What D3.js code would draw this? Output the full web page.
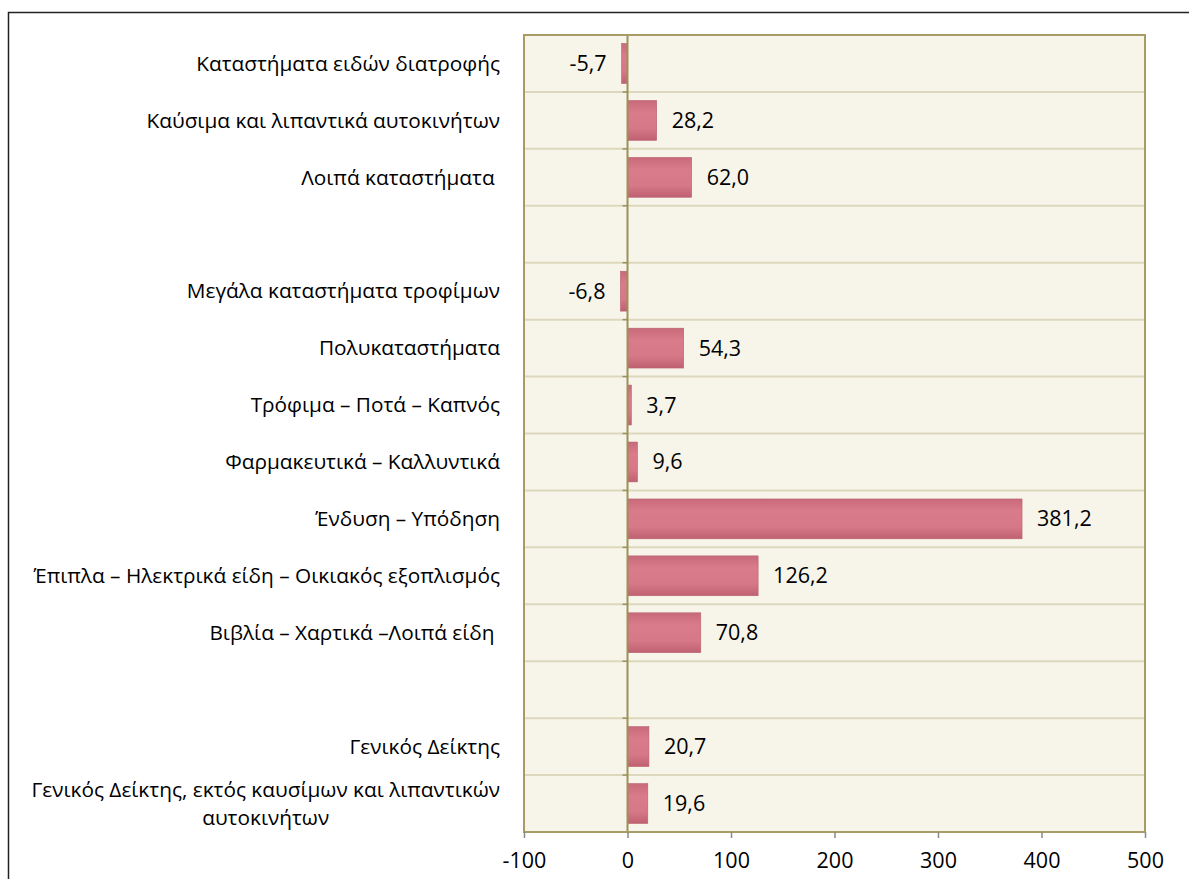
<!DOCTYPE html>
<html>
<head>
<meta charset="utf-8">
<script src="https://cdn.jsdelivr.net/npm/d3@7"></script>
<style>
  body { margin: 0; background: #fff; }
  svg { display: block; font-family: "Open Sans", sans-serif; }
</style>
</head>
<body>
<svg id="chart"></svg>
<script>
// categories, top to bottom ("" = empty spacer row)
const categories = [
  "Καταστήματα ειδών διατροφής",
  "Καύσιμα και λιπαντικά αυτοκινήτων",
  "Λοιπά καταστήματα ",
  "",
  "Μεγάλα καταστήματα τροφίμων",
  "Πολυκαταστήματα",
  "Τρόφιμα – Ποτά – Καπνός",
  "Φαρμακευτικά – Καλλυντικά",
  "Ένδυση – Υπόδηση",
  "Έπιπλα – Ηλεκτρικά είδη – Οικιακός εξοπλισμός",
  "Βιβλία – Χαρτικά –Λοιπά είδη ",
  " ",
  "Γενικός Δείκτης",
  "Γενικός Δείκτης, εκτός καυσίμων και λιπαντικών|αυτοκινήτων"
];
const values = [-5.7, 28.2, 62.0, null, -6.8, 54.3, 3.7, 9.6, 381.2, 126.2, 70.8, null, 20.7, 19.6];
const xTicks = [-100, 0, 100, 200, 300, 400, 500];

const width = 1189, height = 879;
const plot = { left: 524, right: 1145, top: 35, bottom: 832 };
const labelSize = 20.8;
const numSize = 21.5;

const svg = d3.select("#chart").attr("width", width).attr("height", height);

const locale = d3.formatLocale({ decimal: ",", thousands: ".", grouping: [3], currency: ["", "€"], minus: "-" });
const fmt = locale.format(".1f");

const x = d3.scaleLinear().domain([-100, 500]).range([plot.left, plot.right]);
const y = d3.scaleBand().domain(d3.range(categories.length))
  .range([plot.top, plot.bottom]).paddingInner(0.3).paddingOuter(0.15);
const rowH = (plot.bottom - plot.top) / categories.length;

// outer frame
svg.append("path")
  .attr("d", `M${width + 5},12.5 H8.5 V${height + 5}`)
  .attr("fill", "none").attr("stroke", "#222").attr("stroke-width", 1.5);

// gradient for bars
const defs = svg.append("defs");
const grad = defs.append("linearGradient").attr("id", "barGrad")
  .attr("x1", 0).attr("y1", 0).attr("x2", 0).attr("y2", 1);
grad.append("stop").attr("offset", "0%").attr("stop-color", "#c86a79");
grad.append("stop").attr("offset", "30%").attr("stop-color", "#d97b8a");
grad.append("stop").attr("offset", "70%").attr("stop-color", "#d67887");
grad.append("stop").attr("offset", "100%").attr("stop-color", "#bf6171");

// plot background
svg.append("rect")
  .attr("x", plot.left).attr("y", plot.top)
  .attr("width", plot.right - plot.left).attr("height", plot.bottom - plot.top)
  .attr("fill", "#f7f5ea");

// horizontal gridlines between rows
svg.append("g").selectAll("line")
  .data(d3.range(1, categories.length))
  .join("line")
  .attr("x1", plot.left).attr("x2", plot.right)
  .attr("y1", i => plot.top + i * rowH).attr("y2", i => plot.top + i * rowH)
  .attr("stroke", "#dcd8bd").attr("stroke-width", 2);

// bars
svg.append("g").selectAll("rect")
  .data(values.map((v, i) => ({ v, i })).filter(d => d.v !== null))
  .join("rect")
  .attr("x", d => x(Math.min(0, d.v)))
  .attr("y", d => y(d.i))
  .attr("width", d => Math.abs(x(d.v) - x(0)))
  .attr("height", y.bandwidth())
  .attr("fill", "url(#barGrad)")
  .attr("stroke", "#b86070").attr("stroke-width", 0.6);

// value labels
svg.append("g").selectAll("text")
  .data(values.map((v, i) => ({ v, i })).filter(d => d.v !== null))
  .join("text")
  .attr("x", d => d.v < 0 ? x(d.v) - 15 : x(d.v) + 15)
  .attr("y", d => y(d.i) + y.bandwidth() / 2)
  .attr("dy", "0.35em")
  .attr("text-anchor", d => d.v < 0 ? "end" : "start")
  .attr("font-size", numSize).attr("fill", "#000")
  .text(d => fmt(d.v));

// zero axis with ticks to the left
const zero = svg.append("g");
zero.append("line")
  .attr("x1", x(0)).attr("x2", x(0)).attr("y1", plot.top).attr("y2", plot.bottom)
  .attr("stroke", "#9c9158").attr("stroke-width", 2);
zero.selectAll("line.tick")
  .data(d3.range(0, categories.length + 1))
  .join("line").attr("class", "tick")
  .attr("x1", x(0) - 5).attr("x2", x(0))
  .attr("y1", i => plot.top + i * rowH).attr("y2", i => plot.top + i * rowH)
  .attr("stroke", "#9c9158").attr("stroke-width", 1.5);

// plot border
svg.append("rect")
  .attr("x", plot.left).attr("y", plot.top)
  .attr("width", plot.right - plot.left).attr("height", plot.bottom - plot.top)
  .attr("fill", "none").attr("stroke", "#a89c66").attr("stroke-width", 2);

// bottom axis
const xAxis = svg.append("g")
  .attr("transform", `translate(0,${plot.bottom})`)
  .call(d3.axisBottom(x).tickValues(xTicks).tickSize(6).tickPadding(15).tickFormat(locale.format("d")));
xAxis.select(".domain").remove();
xAxis.selectAll(".tick line").attr("stroke", "#8a8a8a").attr("stroke-width", 1.5);
xAxis.selectAll(".tick text").attr("font-size", numSize).attr("fill", "#000")
  .attr("font-family", "'Open Sans', sans-serif");

// category labels
const labelRight = 500;
const labels = svg.append("g").attr("font-size", labelSize).attr("fill", "#000");
categories.forEach((c, i) => {
  if (!c.trim()) return;
  const lines = c.split("|");
  const cy = plot.top + (i + 0.5) * rowH;
  const lh = 28;
  if (lines.length === 1) {
    labels.append("text")
      .attr("x", labelRight).attr("y", cy).attr("dy", "0.35em")
      .attr("text-anchor", "end").attr("xml:space", "preserve")
      .text(c);
  } else {
    // measure widest line to centre all lines on it
    const t = labels.append("text").attr("x", 0).attr("y", -100).text(lines[0]);
    const w = t.node().getComputedTextLength();
    t.remove();
    const cx = labelRight - w / 2;
    lines.forEach((ln, k) => {
      labels.append("text")
        .attr("x", cx).attr("y", cy + (k - (lines.length - 1) / 2) * lh).attr("dy", "0.35em")
        .attr("text-anchor", "middle")
        .text(ln);
    });
  }
});
</script>
</body>
</html>
